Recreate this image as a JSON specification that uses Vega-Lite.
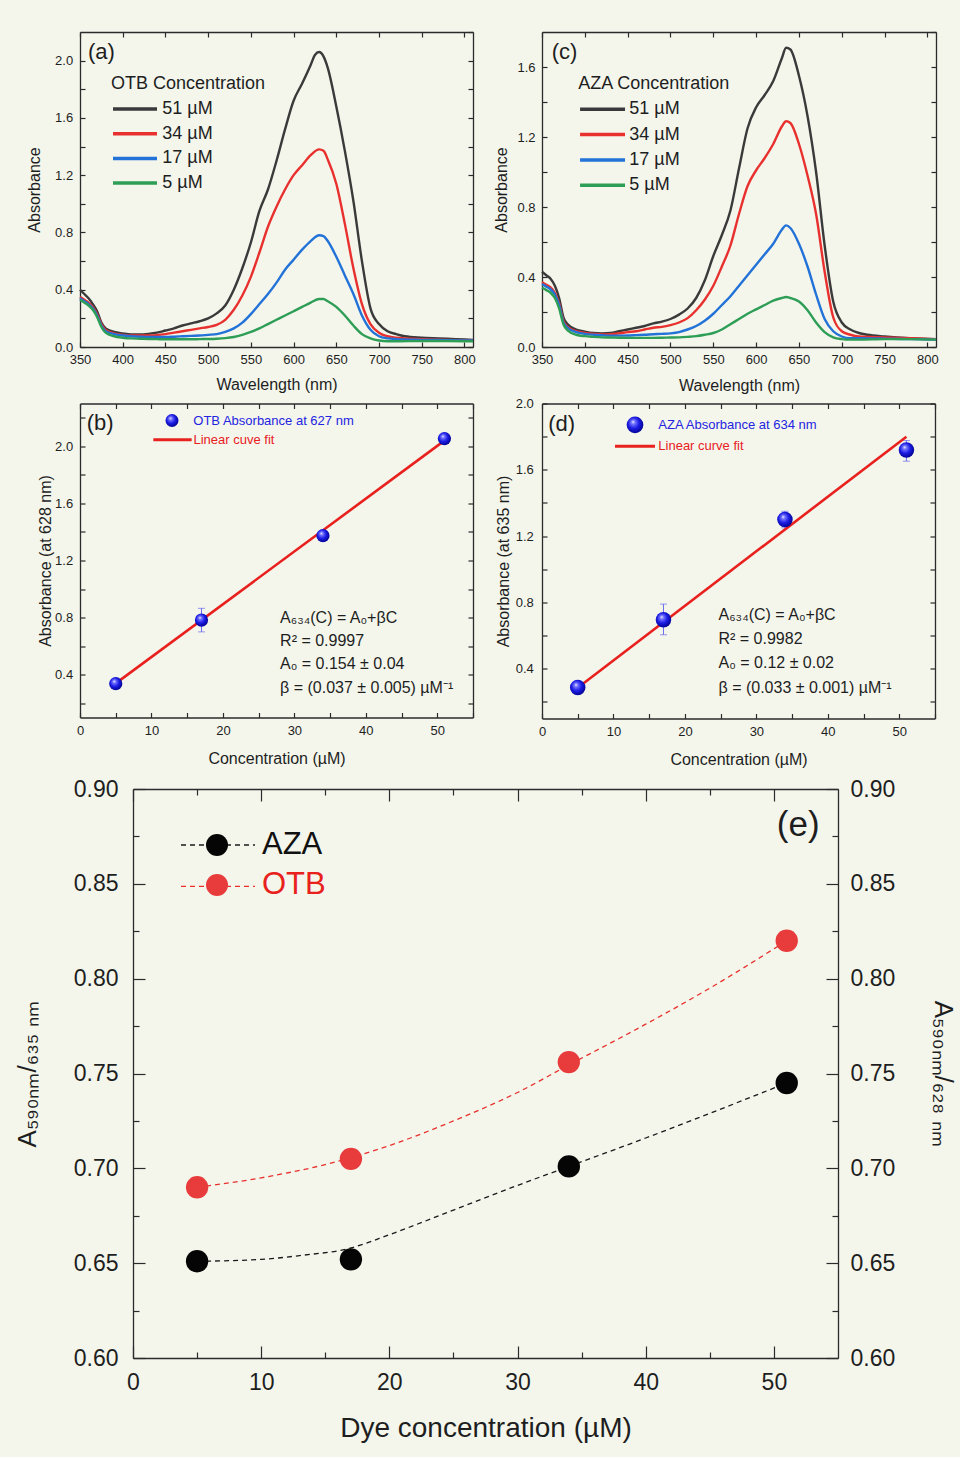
{
  "$schema": "https://vega.github.io/schema/vega-lite/v6.json",
  "background": "#f4f6ec",
  "padding": {"left": 14, "top": 31, "right": 4, "bottom": 14},
  "datasets": {
    "spectra": [
      {"dye":"OTB","conc":"51 µM","wl":350,"abs":0.40},{"dye":"OTB","conc":"51 µM","wl":355,"abs":0.37},{"dye":"OTB","conc":"51 µM","wl":360,"abs":0.34},{"dye":"OTB","conc":"51 µM","wl":365,"abs":0.30},{"dye":"OTB","conc":"51 µM","wl":370,"abs":0.25},{"dye":"OTB","conc":"51 µM","wl":375,"abs":0.17},{"dye":"OTB","conc":"51 µM","wl":380,"abs":0.13},{"dye":"OTB","conc":"51 µM","wl":390,"abs":0.105},{"dye":"OTB","conc":"51 µM","wl":400,"abs":0.095},{"dye":"OTB","conc":"51 µM","wl":410,"abs":0.088},{"dye":"OTB","conc":"51 µM","wl":420,"abs":0.088},{"dye":"OTB","conc":"51 µM","wl":430,"abs":0.092},{"dye":"OTB","conc":"51 µM","wl":440,"abs":0.10},{"dye":"OTB","conc":"51 µM","wl":450,"abs":0.115},{"dye":"OTB","conc":"51 µM","wl":460,"abs":0.13},{"dye":"OTB","conc":"51 µM","wl":470,"abs":0.15},{"dye":"OTB","conc":"51 µM","wl":480,"abs":0.165},{"dye":"OTB","conc":"51 µM","wl":490,"abs":0.18},{"dye":"OTB","conc":"51 µM","wl":500,"abs":0.20},{"dye":"OTB","conc":"51 µM","wl":510,"abs":0.235},{"dye":"OTB","conc":"51 µM","wl":520,"abs":0.29},{"dye":"OTB","conc":"51 µM","wl":530,"abs":0.40},{"dye":"OTB","conc":"51 µM","wl":540,"abs":0.55},{"dye":"OTB","conc":"51 µM","wl":550,"abs":0.73},{"dye":"OTB","conc":"51 µM","wl":560,"abs":0.95},{"dye":"OTB","conc":"51 µM","wl":570,"abs":1.10},{"dye":"OTB","conc":"51 µM","wl":580,"abs":1.30},{"dye":"OTB","conc":"51 µM","wl":590,"abs":1.52},{"dye":"OTB","conc":"51 µM","wl":600,"abs":1.72},{"dye":"OTB","conc":"51 µM","wl":610,"abs":1.84},{"dye":"OTB","conc":"51 µM","wl":620,"abs":1.97},{"dye":"OTB","conc":"51 µM","wl":625,"abs":2.04},{"dye":"OTB","conc":"51 µM","wl":630,"abs":2.06},{"dye":"OTB","conc":"51 µM","wl":635,"abs":2.03},{"dye":"OTB","conc":"51 µM","wl":640,"abs":1.95},{"dye":"OTB","conc":"51 µM","wl":650,"abs":1.68},{"dye":"OTB","conc":"51 µM","wl":660,"abs":1.37},{"dye":"OTB","conc":"51 µM","wl":670,"abs":1.02},{"dye":"OTB","conc":"51 µM","wl":680,"abs":0.60},{"dye":"OTB","conc":"51 µM","wl":690,"abs":0.27},{"dye":"OTB","conc":"51 µM","wl":700,"abs":0.16},{"dye":"OTB","conc":"51 µM","wl":710,"abs":0.11},{"dye":"OTB","conc":"51 µM","wl":720,"abs":0.09},{"dye":"OTB","conc":"51 µM","wl":730,"abs":0.075},{"dye":"OTB","conc":"51 µM","wl":750,"abs":0.065},{"dye":"OTB","conc":"51 µM","wl":770,"abs":0.06},{"dye":"OTB","conc":"51 µM","wl":790,"abs":0.055},{"dye":"OTB","conc":"51 µM","wl":810,"abs":0.05},

      {"dye":"OTB","conc":"34 µM","wl":350,"abs":0.35},{"dye":"OTB","conc":"34 µM","wl":355,"abs":0.33},{"dye":"OTB","conc":"34 µM","wl":360,"abs":0.31},{"dye":"OTB","conc":"34 µM","wl":365,"abs":0.28},{"dye":"OTB","conc":"34 µM","wl":370,"abs":0.23},{"dye":"OTB","conc":"34 µM","wl":375,"abs":0.16},{"dye":"OTB","conc":"34 µM","wl":380,"abs":0.12},{"dye":"OTB","conc":"34 µM","wl":390,"abs":0.095},{"dye":"OTB","conc":"34 µM","wl":400,"abs":0.085},{"dye":"OTB","conc":"34 µM","wl":410,"abs":0.08},{"dye":"OTB","conc":"34 µM","wl":420,"abs":0.08},{"dye":"OTB","conc":"34 µM","wl":430,"abs":0.08},{"dye":"OTB","conc":"34 µM","wl":440,"abs":0.083},{"dye":"OTB","conc":"34 µM","wl":450,"abs":0.09},{"dye":"OTB","conc":"34 µM","wl":460,"abs":0.10},{"dye":"OTB","conc":"34 µM","wl":470,"abs":0.11},{"dye":"OTB","conc":"34 µM","wl":480,"abs":0.12},{"dye":"OTB","conc":"34 µM","wl":490,"abs":0.13},{"dye":"OTB","conc":"34 µM","wl":500,"abs":0.14},{"dye":"OTB","conc":"34 µM","wl":510,"abs":0.155},{"dye":"OTB","conc":"34 µM","wl":520,"abs":0.19},{"dye":"OTB","conc":"34 µM","wl":530,"abs":0.26},{"dye":"OTB","conc":"34 µM","wl":540,"abs":0.36},{"dye":"OTB","conc":"34 µM","wl":550,"abs":0.49},{"dye":"OTB","conc":"34 µM","wl":560,"abs":0.66},{"dye":"OTB","conc":"34 µM","wl":570,"abs":0.84},{"dye":"OTB","conc":"34 µM","wl":580,"abs":0.98},{"dye":"OTB","conc":"34 µM","wl":590,"abs":1.10},{"dye":"OTB","conc":"34 µM","wl":600,"abs":1.20},{"dye":"OTB","conc":"34 µM","wl":610,"abs":1.27},{"dye":"OTB","conc":"34 µM","wl":620,"abs":1.34},{"dye":"OTB","conc":"34 µM","wl":630,"abs":1.38},{"dye":"OTB","conc":"34 µM","wl":635,"abs":1.37},{"dye":"OTB","conc":"34 µM","wl":640,"abs":1.31},{"dye":"OTB","conc":"34 µM","wl":650,"abs":1.14},{"dye":"OTB","conc":"34 µM","wl":660,"abs":0.86},{"dye":"OTB","conc":"34 µM","wl":670,"abs":0.55},{"dye":"OTB","conc":"34 µM","wl":680,"abs":0.30},{"dye":"OTB","conc":"34 µM","wl":690,"abs":0.16},{"dye":"OTB","conc":"34 µM","wl":700,"abs":0.10},{"dye":"OTB","conc":"34 µM","wl":710,"abs":0.075},{"dye":"OTB","conc":"34 µM","wl":720,"abs":0.065},{"dye":"OTB","conc":"34 µM","wl":750,"abs":0.055},{"dye":"OTB","conc":"34 µM","wl":780,"abs":0.05},{"dye":"OTB","conc":"34 µM","wl":810,"abs":0.045},

      {"dye":"OTB","conc":"17 µM","wl":350,"abs":0.34},{"dye":"OTB","conc":"17 µM","wl":355,"abs":0.32},{"dye":"OTB","conc":"17 µM","wl":360,"abs":0.30},{"dye":"OTB","conc":"17 µM","wl":365,"abs":0.27},{"dye":"OTB","conc":"17 µM","wl":370,"abs":0.22},{"dye":"OTB","conc":"17 µM","wl":375,"abs":0.15},{"dye":"OTB","conc":"17 µM","wl":380,"abs":0.11},{"dye":"OTB","conc":"17 µM","wl":390,"abs":0.09},{"dye":"OTB","conc":"17 µM","wl":400,"abs":0.08},{"dye":"OTB","conc":"17 µM","wl":410,"abs":0.075},{"dye":"OTB","conc":"17 µM","wl":420,"abs":0.072},{"dye":"OTB","conc":"17 µM","wl":430,"abs":0.07},{"dye":"OTB","conc":"17 µM","wl":440,"abs":0.07},{"dye":"OTB","conc":"17 µM","wl":450,"abs":0.07},{"dye":"OTB","conc":"17 µM","wl":460,"abs":0.072},{"dye":"OTB","conc":"17 µM","wl":470,"abs":0.075},{"dye":"OTB","conc":"17 µM","wl":480,"abs":0.078},{"dye":"OTB","conc":"17 µM","wl":490,"abs":0.08},{"dye":"OTB","conc":"17 µM","wl":500,"abs":0.085},{"dye":"OTB","conc":"17 µM","wl":510,"abs":0.09},{"dye":"OTB","conc":"17 µM","wl":520,"abs":0.105},{"dye":"OTB","conc":"17 µM","wl":530,"abs":0.13},{"dye":"OTB","conc":"17 µM","wl":540,"abs":0.17},{"dye":"OTB","conc":"17 µM","wl":550,"abs":0.23},{"dye":"OTB","conc":"17 µM","wl":560,"abs":0.30},{"dye":"OTB","conc":"17 µM","wl":570,"abs":0.37},{"dye":"OTB","conc":"17 µM","wl":580,"abs":0.45},{"dye":"OTB","conc":"17 µM","wl":590,"abs":0.54},{"dye":"OTB","conc":"17 µM","wl":600,"abs":0.61},{"dye":"OTB","conc":"17 µM","wl":610,"abs":0.68},{"dye":"OTB","conc":"17 µM","wl":620,"abs":0.74},{"dye":"OTB","conc":"17 µM","wl":630,"abs":0.78},{"dye":"OTB","conc":"17 µM","wl":635,"abs":0.775},{"dye":"OTB","conc":"17 µM","wl":640,"abs":0.74},{"dye":"OTB","conc":"17 µM","wl":650,"abs":0.63},{"dye":"OTB","conc":"17 µM","wl":660,"abs":0.50},{"dye":"OTB","conc":"17 µM","wl":670,"abs":0.37},{"dye":"OTB","conc":"17 µM","wl":680,"abs":0.22},{"dye":"OTB","conc":"17 µM","wl":690,"abs":0.12},{"dye":"OTB","conc":"17 µM","wl":700,"abs":0.075},{"dye":"OTB","conc":"17 µM","wl":710,"abs":0.06},{"dye":"OTB","conc":"17 µM","wl":720,"abs":0.055},{"dye":"OTB","conc":"17 µM","wl":750,"abs":0.05},{"dye":"OTB","conc":"17 µM","wl":780,"abs":0.048},{"dye":"OTB","conc":"17 µM","wl":810,"abs":0.045},

      {"dye":"OTB","conc":"5 µM","wl":350,"abs":0.33},{"dye":"OTB","conc":"5 µM","wl":355,"abs":0.31},{"dye":"OTB","conc":"5 µM","wl":360,"abs":0.29},{"dye":"OTB","conc":"5 µM","wl":365,"abs":0.26},{"dye":"OTB","conc":"5 µM","wl":370,"abs":0.21},{"dye":"OTB","conc":"5 µM","wl":375,"abs":0.14},{"dye":"OTB","conc":"5 µM","wl":380,"abs":0.10},{"dye":"OTB","conc":"5 µM","wl":390,"abs":0.075},{"dye":"OTB","conc":"5 µM","wl":400,"abs":0.065},{"dye":"OTB","conc":"5 µM","wl":410,"abs":0.06},{"dye":"OTB","conc":"5 µM","wl":420,"abs":0.058},{"dye":"OTB","conc":"5 µM","wl":430,"abs":0.056},{"dye":"OTB","conc":"5 µM","wl":440,"abs":0.055},{"dye":"OTB","conc":"5 µM","wl":450,"abs":0.054},{"dye":"OTB","conc":"5 µM","wl":460,"abs":0.054},{"dye":"OTB","conc":"5 µM","wl":470,"abs":0.054},{"dye":"OTB","conc":"5 µM","wl":480,"abs":0.054},{"dye":"OTB","conc":"5 µM","wl":490,"abs":0.055},{"dye":"OTB","conc":"5 µM","wl":500,"abs":0.056},{"dye":"OTB","conc":"5 µM","wl":510,"abs":0.058},{"dye":"OTB","conc":"5 µM","wl":520,"abs":0.062},{"dye":"OTB","conc":"5 µM","wl":530,"abs":0.07},{"dye":"OTB","conc":"5 µM","wl":540,"abs":0.085},{"dye":"OTB","conc":"5 µM","wl":550,"abs":0.105},{"dye":"OTB","conc":"5 µM","wl":560,"abs":0.13},{"dye":"OTB","conc":"5 µM","wl":570,"abs":0.16},{"dye":"OTB","conc":"5 µM","wl":580,"abs":0.19},{"dye":"OTB","conc":"5 µM","wl":590,"abs":0.22},{"dye":"OTB","conc":"5 µM","wl":600,"abs":0.25},{"dye":"OTB","conc":"5 µM","wl":610,"abs":0.28},{"dye":"OTB","conc":"5 µM","wl":620,"abs":0.31},{"dye":"OTB","conc":"5 µM","wl":630,"abs":0.335},{"dye":"OTB","conc":"5 µM","wl":635,"abs":0.335},{"dye":"OTB","conc":"5 µM","wl":640,"abs":0.32},{"dye":"OTB","conc":"5 µM","wl":650,"abs":0.28},{"dye":"OTB","conc":"5 µM","wl":660,"abs":0.22},{"dye":"OTB","conc":"5 µM","wl":670,"abs":0.15},{"dye":"OTB","conc":"5 µM","wl":680,"abs":0.09},{"dye":"OTB","conc":"5 µM","wl":690,"abs":0.06},{"dye":"OTB","conc":"5 µM","wl":700,"abs":0.045},{"dye":"OTB","conc":"5 µM","wl":710,"abs":0.04},{"dye":"OTB","conc":"5 µM","wl":720,"abs":0.04},{"dye":"OTB","conc":"5 µM","wl":750,"abs":0.042},{"dye":"OTB","conc":"5 µM","wl":780,"abs":0.042},{"dye":"OTB","conc":"5 µM","wl":810,"abs":0.04},

      {"dye":"AZA","conc":"51 µM","wl":350,"abs":0.43},{"dye":"AZA","conc":"51 µM","wl":355,"abs":0.41},{"dye":"AZA","conc":"51 µM","wl":360,"abs":0.39},{"dye":"AZA","conc":"51 µM","wl":365,"abs":0.35},{"dye":"AZA","conc":"51 µM","wl":370,"abs":0.28},{"dye":"AZA","conc":"51 µM","wl":375,"abs":0.17},{"dye":"AZA","conc":"51 µM","wl":380,"abs":0.13},{"dye":"AZA","conc":"51 µM","wl":390,"abs":0.10},{"dye":"AZA","conc":"51 µM","wl":400,"abs":0.088},{"dye":"AZA","conc":"51 µM","wl":410,"abs":0.08},{"dye":"AZA","conc":"51 µM","wl":420,"abs":0.078},{"dye":"AZA","conc":"51 µM","wl":430,"abs":0.08},{"dye":"AZA","conc":"51 µM","wl":440,"abs":0.09},{"dye":"AZA","conc":"51 µM","wl":450,"abs":0.10},{"dye":"AZA","conc":"51 µM","wl":460,"abs":0.11},{"dye":"AZA","conc":"51 µM","wl":470,"abs":0.12},{"dye":"AZA","conc":"51 µM","wl":480,"abs":0.135},{"dye":"AZA","conc":"51 µM","wl":490,"abs":0.145},{"dye":"AZA","conc":"51 µM","wl":500,"abs":0.16},{"dye":"AZA","conc":"51 µM","wl":510,"abs":0.185},{"dye":"AZA","conc":"51 µM","wl":520,"abs":0.22},{"dye":"AZA","conc":"51 µM","wl":530,"abs":0.28},{"dye":"AZA","conc":"51 µM","wl":540,"abs":0.38},{"dye":"AZA","conc":"51 µM","wl":550,"abs":0.52},{"dye":"AZA","conc":"51 µM","wl":560,"abs":0.64},{"dye":"AZA","conc":"51 µM","wl":570,"abs":0.78},{"dye":"AZA","conc":"51 µM","wl":580,"abs":1.02},{"dye":"AZA","conc":"51 µM","wl":590,"abs":1.25},{"dye":"AZA","conc":"51 µM","wl":600,"abs":1.37},{"dye":"AZA","conc":"51 µM","wl":610,"abs":1.44},{"dye":"AZA","conc":"51 µM","wl":620,"abs":1.52},{"dye":"AZA","conc":"51 µM","wl":630,"abs":1.65},{"dye":"AZA","conc":"51 µM","wl":635,"abs":1.71},{"dye":"AZA","conc":"51 µM","wl":640,"abs":1.70},{"dye":"AZA","conc":"51 µM","wl":650,"abs":1.55},{"dye":"AZA","conc":"51 µM","wl":660,"abs":1.32},{"dye":"AZA","conc":"51 µM","wl":670,"abs":1.0},{"dye":"AZA","conc":"51 µM","wl":680,"abs":0.58},{"dye":"AZA","conc":"51 µM","wl":690,"abs":0.26},{"dye":"AZA","conc":"51 µM","wl":700,"abs":0.14},{"dye":"AZA","conc":"51 µM","wl":710,"abs":0.10},{"dye":"AZA","conc":"51 µM","wl":720,"abs":0.08},{"dye":"AZA","conc":"51 µM","wl":730,"abs":0.07},{"dye":"AZA","conc":"51 µM","wl":750,"abs":0.06},{"dye":"AZA","conc":"51 µM","wl":780,"abs":0.05},{"dye":"AZA","conc":"51 µM","wl":810,"abs":0.045},

      {"dye":"AZA","conc":"34 µM","wl":350,"abs":0.37},{"dye":"AZA","conc":"34 µM","wl":355,"abs":0.355},{"dye":"AZA","conc":"34 µM","wl":360,"abs":0.34},{"dye":"AZA","conc":"34 µM","wl":365,"abs":0.31},{"dye":"AZA","conc":"34 µM","wl":370,"abs":0.25},{"dye":"AZA","conc":"34 µM","wl":375,"abs":0.15},{"dye":"AZA","conc":"34 µM","wl":380,"abs":0.115},{"dye":"AZA","conc":"34 µM","wl":390,"abs":0.09},{"dye":"AZA","conc":"34 µM","wl":400,"abs":0.08},{"dye":"AZA","conc":"34 µM","wl":410,"abs":0.075},{"dye":"AZA","conc":"34 µM","wl":420,"abs":0.072},{"dye":"AZA","conc":"34 µM","wl":430,"abs":0.073},{"dye":"AZA","conc":"34 µM","wl":440,"abs":0.078},{"dye":"AZA","conc":"34 µM","wl":450,"abs":0.085},{"dye":"AZA","conc":"34 µM","wl":460,"abs":0.09},{"dye":"AZA","conc":"34 µM","wl":470,"abs":0.10},{"dye":"AZA","conc":"34 µM","wl":480,"abs":0.11},{"dye":"AZA","conc":"34 µM","wl":490,"abs":0.115},{"dye":"AZA","conc":"34 µM","wl":500,"abs":0.125},{"dye":"AZA","conc":"34 µM","wl":510,"abs":0.14},{"dye":"AZA","conc":"34 µM","wl":520,"abs":0.165},{"dye":"AZA","conc":"34 µM","wl":530,"abs":0.21},{"dye":"AZA","conc":"34 µM","wl":540,"abs":0.27},{"dye":"AZA","conc":"34 µM","wl":550,"abs":0.35},{"dye":"AZA","conc":"34 µM","wl":560,"abs":0.46},{"dye":"AZA","conc":"34 µM","wl":570,"abs":0.58},{"dye":"AZA","conc":"34 µM","wl":580,"abs":0.76},{"dye":"AZA","conc":"34 µM","wl":590,"abs":0.92},{"dye":"AZA","conc":"34 µM","wl":600,"abs":1.01},{"dye":"AZA","conc":"34 µM","wl":610,"abs":1.08},{"dye":"AZA","conc":"34 µM","wl":620,"abs":1.16},{"dye":"AZA","conc":"34 µM","wl":630,"abs":1.26},{"dye":"AZA","conc":"34 µM","wl":635,"abs":1.29},{"dye":"AZA","conc":"34 µM","wl":640,"abs":1.28},{"dye":"AZA","conc":"34 µM","wl":650,"abs":1.16},{"dye":"AZA","conc":"34 µM","wl":660,"abs":0.98},{"dye":"AZA","conc":"34 µM","wl":670,"abs":0.76},{"dye":"AZA","conc":"34 µM","wl":680,"abs":0.43},{"dye":"AZA","conc":"34 µM","wl":690,"abs":0.17},{"dye":"AZA","conc":"34 µM","wl":700,"abs":0.09},{"dye":"AZA","conc":"34 µM","wl":710,"abs":0.07},{"dye":"AZA","conc":"34 µM","wl":720,"abs":0.06},{"dye":"AZA","conc":"34 µM","wl":750,"abs":0.055},{"dye":"AZA","conc":"34 µM","wl":780,"abs":0.05},{"dye":"AZA","conc":"34 µM","wl":810,"abs":0.045},

      {"dye":"AZA","conc":"17 µM","wl":350,"abs":0.36},{"dye":"AZA","conc":"17 µM","wl":355,"abs":0.345},{"dye":"AZA","conc":"17 µM","wl":360,"abs":0.33},{"dye":"AZA","conc":"17 µM","wl":365,"abs":0.30},{"dye":"AZA","conc":"17 µM","wl":370,"abs":0.24},{"dye":"AZA","conc":"17 µM","wl":375,"abs":0.14},{"dye":"AZA","conc":"17 µM","wl":380,"abs":0.11},{"dye":"AZA","conc":"17 µM","wl":390,"abs":0.085},{"dye":"AZA","conc":"17 µM","wl":400,"abs":0.075},{"dye":"AZA","conc":"17 µM","wl":410,"abs":0.07},{"dye":"AZA","conc":"17 µM","wl":420,"abs":0.067},{"dye":"AZA","conc":"17 µM","wl":430,"abs":0.065},{"dye":"AZA","conc":"17 µM","wl":440,"abs":0.065},{"dye":"AZA","conc":"17 µM","wl":450,"abs":0.066},{"dye":"AZA","conc":"17 µM","wl":460,"abs":0.068},{"dye":"AZA","conc":"17 µM","wl":470,"abs":0.07},{"dye":"AZA","conc":"17 µM","wl":480,"abs":0.073},{"dye":"AZA","conc":"17 µM","wl":490,"abs":0.075},{"dye":"AZA","conc":"17 µM","wl":500,"abs":0.078},{"dye":"AZA","conc":"17 µM","wl":510,"abs":0.085},{"dye":"AZA","conc":"17 µM","wl":520,"abs":0.10},{"dye":"AZA","conc":"17 µM","wl":530,"abs":0.12},{"dye":"AZA","conc":"17 µM","wl":540,"abs":0.15},{"dye":"AZA","conc":"17 µM","wl":550,"abs":0.19},{"dye":"AZA","conc":"17 µM","wl":560,"abs":0.24},{"dye":"AZA","conc":"17 µM","wl":570,"abs":0.29},{"dye":"AZA","conc":"17 µM","wl":580,"abs":0.35},{"dye":"AZA","conc":"17 µM","wl":590,"abs":0.41},{"dye":"AZA","conc":"17 µM","wl":600,"abs":0.47},{"dye":"AZA","conc":"17 µM","wl":610,"abs":0.53},{"dye":"AZA","conc":"17 µM","wl":620,"abs":0.59},{"dye":"AZA","conc":"17 µM","wl":630,"abs":0.67},{"dye":"AZA","conc":"17 µM","wl":635,"abs":0.695},{"dye":"AZA","conc":"17 µM","wl":640,"abs":0.68},{"dye":"AZA","conc":"17 µM","wl":650,"abs":0.59},{"dye":"AZA","conc":"17 µM","wl":660,"abs":0.46},{"dye":"AZA","conc":"17 µM","wl":670,"abs":0.30},{"dye":"AZA","conc":"17 µM","wl":680,"abs":0.16},{"dye":"AZA","conc":"17 µM","wl":690,"abs":0.09},{"dye":"AZA","conc":"17 µM","wl":700,"abs":0.06},{"dye":"AZA","conc":"17 µM","wl":710,"abs":0.05},{"dye":"AZA","conc":"17 µM","wl":720,"abs":0.05},{"dye":"AZA","conc":"17 µM","wl":750,"abs":0.048},{"dye":"AZA","conc":"17 µM","wl":780,"abs":0.045},{"dye":"AZA","conc":"17 µM","wl":810,"abs":0.042},

      {"dye":"AZA","conc":"5 µM","wl":350,"abs":0.34},{"dye":"AZA","conc":"5 µM","wl":355,"abs":0.325},{"dye":"AZA","conc":"5 µM","wl":360,"abs":0.31},{"dye":"AZA","conc":"5 µM","wl":365,"abs":0.28},{"dye":"AZA","conc":"5 µM","wl":370,"abs":0.22},{"dye":"AZA","conc":"5 µM","wl":375,"abs":0.13},{"dye":"AZA","conc":"5 µM","wl":380,"abs":0.095},{"dye":"AZA","conc":"5 µM","wl":390,"abs":0.07},{"dye":"AZA","conc":"5 µM","wl":400,"abs":0.062},{"dye":"AZA","conc":"5 µM","wl":410,"abs":0.058},{"dye":"AZA","conc":"5 µM","wl":420,"abs":0.055},{"dye":"AZA","conc":"5 µM","wl":430,"abs":0.054},{"dye":"AZA","conc":"5 µM","wl":440,"abs":0.053},{"dye":"AZA","conc":"5 µM","wl":450,"abs":0.052},{"dye":"AZA","conc":"5 µM","wl":460,"abs":0.052},{"dye":"AZA","conc":"5 µM","wl":470,"abs":0.052},{"dye":"AZA","conc":"5 µM","wl":480,"abs":0.052},{"dye":"AZA","conc":"5 µM","wl":490,"abs":0.053},{"dye":"AZA","conc":"5 µM","wl":500,"abs":0.054},{"dye":"AZA","conc":"5 µM","wl":510,"abs":0.055},{"dye":"AZA","conc":"5 µM","wl":520,"abs":0.058},{"dye":"AZA","conc":"5 µM","wl":530,"abs":0.062},{"dye":"AZA","conc":"5 µM","wl":540,"abs":0.07},{"dye":"AZA","conc":"5 µM","wl":550,"abs":0.08},{"dye":"AZA","conc":"5 µM","wl":560,"abs":0.10},{"dye":"AZA","conc":"5 µM","wl":570,"abs":0.13},{"dye":"AZA","conc":"5 µM","wl":580,"abs":0.16},{"dye":"AZA","conc":"5 µM","wl":590,"abs":0.19},{"dye":"AZA","conc":"5 µM","wl":600,"abs":0.215},{"dye":"AZA","conc":"5 µM","wl":610,"abs":0.24},{"dye":"AZA","conc":"5 µM","wl":620,"abs":0.265},{"dye":"AZA","conc":"5 µM","wl":630,"abs":0.28},{"dye":"AZA","conc":"5 µM","wl":635,"abs":0.286},{"dye":"AZA","conc":"5 µM","wl":640,"abs":0.28},{"dye":"AZA","conc":"5 µM","wl":650,"abs":0.26},{"dye":"AZA","conc":"5 µM","wl":660,"abs":0.21},{"dye":"AZA","conc":"5 µM","wl":670,"abs":0.14},{"dye":"AZA","conc":"5 µM","wl":680,"abs":0.085},{"dye":"AZA","conc":"5 µM","wl":690,"abs":0.055},{"dye":"AZA","conc":"5 µM","wl":700,"abs":0.045},{"dye":"AZA","conc":"5 µM","wl":710,"abs":0.042},{"dye":"AZA","conc":"5 µM","wl":720,"abs":0.042},{"dye":"AZA","conc":"5 µM","wl":750,"abs":0.045},{"dye":"AZA","conc":"5 µM","wl":780,"abs":0.045},{"dye":"AZA","conc":"5 µM","wl":810,"abs":0.042}
    ],
    "calib": [
      {"dye":"OTB","conc":5,"abs":0.337,"lo":0.337,"hi":0.337},
      {"dye":"OTB","conc":17,"abs":0.783,"lo":0.70,"hi":0.865},
      {"dye":"OTB","conc":34,"abs":1.374,"lo":1.374,"hi":1.374},
      {"dye":"OTB","conc":51,"abs":2.054,"lo":2.054,"hi":2.054},
      {"dye":"AZA","conc":5,"abs":0.287,"lo":0.287,"hi":0.287},
      {"dye":"AZA","conc":17,"abs":0.696,"lo":0.605,"hi":0.79},
      {"dye":"AZA","conc":34,"abs":1.30,"lo":1.25,"hi":1.35},
      {"dye":"AZA","conc":51,"abs":1.72,"lo":1.652,"hi":1.777}
    ],
    "fit": [
      {"dye":"OTB","conc":5,"fit":0.339},{"dye":"OTB","conc":51,"fit":2.04},
      {"dye":"AZA","conc":5,"fit":0.285},{"dye":"AZA","conc":51,"fit":1.80}
    ],
    "ratio": [
      {"dye":"AZA","conc":5,"ratio":0.651},{"dye":"AZA","conc":17,"ratio":0.652},{"dye":"AZA","conc":34,"ratio":0.701},{"dye":"AZA","conc":51,"ratio":0.745},
      {"dye":"OTB","conc":5,"ratio":0.690},{"dye":"OTB","conc":17,"ratio":0.705},{"dye":"OTB","conc":34,"ratio":0.756},{"dye":"OTB","conc":51,"ratio":0.820}
    ],
    "ratiofit": [
      {"curve":"AZA fit","conc":5,"fit":0.651},{"curve":"AZA fit","conc":10,"fit":0.652},{"curve":"AZA fit","conc":13,"fit":0.654},{"curve":"AZA fit","conc":17,"fit":0.658},{"curve":"AZA fit","conc":20,"fit":0.665},{"curve":"AZA fit","conc":25,"fit":0.678},{"curve":"AZA fit","conc":30,"fit":0.691},{"curve":"AZA fit","conc":34,"fit":0.701},{"curve":"AZA fit","conc":40,"fit":0.716},{"curve":"AZA fit","conc":45,"fit":0.729},{"curve":"AZA fit","conc":51,"fit":0.745},
      {"curve":"OTB fit","conc":5,"fit":0.690},{"curve":"OTB fit","conc":10,"fit":0.695},{"curve":"OTB fit","conc":15,"fit":0.702},{"curve":"OTB fit","conc":20,"fit":0.712},{"curve":"OTB fit","conc":25,"fit":0.725},{"curve":"OTB fit","conc":30,"fit":0.740},{"curve":"OTB fit","conc":34,"fit":0.7545},{"curve":"OTB fit","conc":40,"fit":0.776},{"curve":"OTB fit","conc":45,"fit":0.795},{"curve":"OTB fit","conc":51,"fit":0.820}
    ]
  },
  "spacing": 3.5,
  "resolve": {"scale": {"color": "independent", "stroke": "independent", "fill": "independent", "shape": "independent"}},
  "vconcat": [
    {
      "spacing": 69,
      "bounds": "flush",
      "resolve": {"scale": {"color": "independent", "stroke": "independent", "fill": "independent", "shape": "independent"}},
      "hconcat": [
        {
          "width": 393, "height": 315,
          "resolve": {"axis": {"x": "independent", "y": "independent"}},
          "layer": [
            {
              "data": {"name": "spectra"},
              "transform": [{"filter": "datum.dye === 'OTB'"}],
              "mark": {"type": "line", "strokeWidth": 2.4, "interpolate": "monotone"},
              "encoding": {
                "x": {"field": "wl", "type": "quantitative", "scale": {"domain": [350, 810], "nice": false, "zero": false},
                  "axis": {"orient": "bottom", "values": [350,400,450,500,550,600,650,700,750,800], "title": "Wavelength (nm)", "labelPadding": 11.5, "titlePadding": 9.5}},
                "y": {"field": "abs", "type": "quantitative", "scale": {"domain": [0, 2.2], "nice": false, "zero": false},
                  "axis": {"orient": "left", "values": [0,0.2,0.4,0.6,0.8,1.0,1.2,1.4,1.6,1.8,2.0], "labelExpr": "round(datum.value*10) % 4 === 0 ? format(datum.value, '.1f') : ''", "title": "Absorbance", "labelPadding": 12.3, "titlePadding": 12}},
                "color": {"field": "conc", "type": "nominal", "scale": {"domain": ["51 µM","34 µM","17 µM","5 µM"], "range": ["#3a3a3a","#e8312f","#2272d8","#2e9e56"]},
                  "legend": {"orient": "none", "legendX": 31, "legendY": 42.5, "title": "OTB Concentration", "titleFontSize": 18, "titlePadding": 3.5, "labelFontSize": 18, "symbolType": "M-1,0H3", "symbolSize": 484, "symbolStrokeWidth": 3.5, "labelOffset": 25.3, "rowPadding": 2.7}}
              }
            },
            {
              "data": {"values": [{}]},
              "mark": {"type": "text", "text": "(a)", "fontSize": 22, "align": "left", "baseline": "middle", "color": "#1e1e1e"},
              "encoding": {
                "x": {"datum": 359.3, "type": "quantitative", "axis": {"orient": "top", "values": [350,400,450,500,550,600,650,700,750,800], "labels": false, "title": null}},
                "y": {"datum": 2.058, "type": "quantitative", "axis": {"orient": "right", "values": [0,0.2,0.4,0.6,0.8,1.0,1.2,1.4,1.6,1.8,2.0,2.2], "labels": false, "title": null}}
              }
            }
          ]
        },
        {
          "width": 394, "height": 315,
          "resolve": {"axis": {"x": "independent", "y": "independent"}},
          "layer": [
            {
              "data": {"name": "spectra"},
              "transform": [{"filter": "datum.dye === 'AZA'"}],
              "mark": {"type": "line", "strokeWidth": 2.4, "interpolate": "monotone"},
              "encoding": {
                "x": {"field": "wl", "type": "quantitative", "scale": {"domain": [350, 810], "nice": false, "zero": false},
                  "axis": {"orient": "bottom", "values": [350,400,450,500,550,600,650,700,750,800], "title": "Wavelength (nm)", "labelPadding": 11.5, "titlePadding": 11}},
                "y": {"field": "abs", "type": "quantitative", "scale": {"domain": [0, 1.8], "nice": false, "zero": false},
                  "axis": {"orient": "left", "values": [0,0.2,0.4,0.6,0.8,1.0,1.2,1.4,1.6], "labelExpr": "round(datum.value*10) % 4 === 0 ? format(datum.value, '.1f') : ''", "title": "Absorbance", "labelPadding": 12, "titlePadding": 7.5}},
                "color": {"field": "conc", "type": "nominal", "scale": {"domain": ["51 µM","34 µM","17 µM","5 µM"], "range": ["#3a3a3a","#e8312f","#2272d8","#2e9e56"]},
                  "legend": {"orient": "none", "legendX": 36.3, "legendY": 42.8, "title": "AZA Concentration", "titleFontSize": 18, "titlePadding": 3.5, "labelFontSize": 18, "symbolType": "M-1,0H3", "symbolSize": 506, "symbolStrokeWidth": 3.5, "labelOffset": 25, "rowPadding": 3.3}}
              }
            },
            {
              "data": {"values": [{}]},
              "mark": {"type": "text", "text": "(c)", "fontSize": 22, "align": "left", "baseline": "middle", "color": "#1e1e1e"},
              "encoding": {
                "x": {"datum": 361.3, "type": "quantitative", "axis": {"orient": "top", "values": [350,400,450,500,550,600,650,700,750,800], "labels": false, "title": null}},
                "y": {"datum": 1.687, "type": "quantitative", "axis": {"orient": "right", "values": [0,0.2,0.4,0.6,0.8,1.0,1.2,1.4,1.6,1.8], "labels": false, "title": null}}
              }
            }
          ]
        }
      ]
    },
    {
      "spacing": 10.5,
      "resolve": {"scale": {"color": "independent", "stroke": "independent", "fill": "independent", "shape": "independent"}},
      "vconcat": [
        {
          "spacing": 69,
          "bounds": "flush",
          "resolve": {"scale": {"color": "independent", "stroke": "independent", "fill": "independent", "shape": "independent"}},
          "hconcat": [
            {
              "width": 393, "height": 314,
              "resolve": {"axis": {"x": "independent", "y": "independent"}},
              "layer": [
                {
                  "data": {"name": "calib"},
                  "transform": [{"filter": "datum.dye === 'OTB'"}],
                  "mark": {"type": "errorbar", "ticks": true, "size": 7, "thickness": 1, "color": "#6a6aee"},
                  "encoding": {
                    "x": {"field": "conc", "type": "quantitative", "scale": {"domain": [0, 55], "nice": false, "zero": false}, "axis": null},
                    "y": {"field": "lo", "type": "quantitative", "scale": {"domain": [0.1, 2.3], "nice": false, "zero": false}, "axis": null},
                    "y2": {"field": "hi"}
                  }
                },
                {
                  "data": {"name": "fit"},
                  "transform": [{"filter": "datum.dye === 'OTB'"}],
                  "mark": {"type": "line", "strokeWidth": 2.6},
                  "encoding": {
                    "x": {"field": "conc", "type": "quantitative", "axis": null},
                    "y": {"field": "fit", "type": "quantitative", "axis": null},
                    "stroke": {"datum": "Linear cuve fit", "scale": {"range": ["#e8201e"]},
                      "legend": {"orient": "none", "legendX": 71.5, "legendY": 15.3, "title": null, "symbolType": "stroke", "symbolSize": 1467, "symbolStrokeWidth": 3, "labelOffset": 0, "labelFontSize": 13, "labelColor": "#e8201e"}}
                  }
                },
                {
                  "data": {"name": "calib"},
                  "transform": [{"filter": "datum.dye === 'OTB'"}],
                  "mark": {"type": "point", "filled": true, "size": 175, "strokeWidth": 0, "opacity": 1,
                    "fill": {"gradient": "radial", "x1": 0.38, "y1": 0.32, "r1": 0, "x2": 0.45, "y2": 0.45, "r2": 0.6, "stops": [{"offset": 0, "color": "#ffffff"}, {"offset": 0.18, "color": "#7a7aff"}, {"offset": 0.55, "color": "#1c1ce6"}, {"offset": 1, "color": "#000088"}]}},
                  "encoding": {
                    "x": {"field": "conc", "type": "quantitative",
                      "axis": {"orient": "bottom", "values": [0,5,10,15,20,25,30,35,40,45,50,55], "labelExpr": "datum.value % 10 === 0 ? datum.label : ''", "title": "Concentration (µM)", "labelPadding": 11.5, "titlePadding": 13.5}},
                    "y": {"field": "abs", "type": "quantitative",
                      "axis": {"orient": "left", "values": [0.2,0.4,0.6,0.8,1.0,1.2,1.4,1.6,1.8,2.0,2.2], "labelExpr": "round(datum.value*10) % 4 === 0 ? format(datum.value, '.1f') : ''", "title": "Absorbance (at 628 nm)", "labelPadding": 12.3, "titlePadding": 1}},
                    "shape": {"datum": "OTB Absorbance at 627 nm", "scale": {"range": ["circle"]},
                      "legend": {"orient": "none", "legendX": 85.5, "legendY": 10.5, "title": null, "symbolSize": 169, "symbolFillColor": "#2020e6", "symbolStrokeWidth": 0, "labelOffset": 14.8, "labelFontSize": 13, "labelColor": "#2424e0"}}
                  }
                },
                {
                  "data": {"values": [{}]},
                  "mark": {"type": "text", "text": "(b)", "fontSize": 22, "align": "left", "baseline": "middle", "color": "#1e1e1e"},
                  "encoding": {
                    "x": {"datum": 0.94, "type": "quantitative", "axis": {"orient": "top", "values": [0,5,10,15,20,25,30,35,40,45,50,55], "labels": false, "title": null}},
                    "y": {"datum": 2.162, "type": "quantitative", "axis": {"orient": "right", "values": [0.2,0.4,0.6,0.8,1.0,1.2,1.4,1.6,1.8,2.0,2.2], "labels": false, "title": null}}
                  }
                },
                {
                  "data": {"values": [{}]},
                  "mark": {"type": "text", "text": ["A₆₃₄(C) = A₀+βC", "R² = 0.9997", "A₀ = 0.154 ± 0.04", "β = (0.037 ± 0.005) µM⁻¹"], "fontSize": 16, "lineHeight": 23.3, "align": "left", "baseline": "top", "color": "#1e1e1e"},
                  "encoding": {
                    "x": {"datum": 28.0, "type": "quantitative", "axis": null},
                    "y": {"datum": 0.854, "type": "quantitative", "axis": null}
                  }
                }
              ]
            },
            {
              "width": 393, "height": 315,
              "resolve": {"axis": {"x": "independent", "y": "independent"}},
              "layer": [
                {
                  "data": {"name": "calib"},
                  "transform": [{"filter": "datum.dye === 'AZA'"}],
                  "mark": {"type": "errorbar", "ticks": true, "size": 7, "thickness": 1, "color": "#6a6aee"},
                  "encoding": {
                    "x": {"field": "conc", "type": "quantitative", "scale": {"domain": [0, 55], "nice": false, "zero": false}, "axis": null},
                    "y": {"field": "lo", "type": "quantitative", "scale": {"domain": [0.1, 2.0], "nice": false, "zero": false}, "axis": null},
                    "y2": {"field": "hi"}
                  }
                },
                {
                  "data": {"name": "fit"},
                  "transform": [{"filter": "datum.dye === 'AZA'"}],
                  "mark": {"type": "line", "strokeWidth": 2.6},
                  "encoding": {
                    "x": {"field": "conc", "type": "quantitative", "axis": null},
                    "y": {"field": "fit", "type": "quantitative", "axis": null},
                    "stroke": {"datum": "Linear curve fit", "scale": {"range": ["#e8201e"]},
                      "legend": {"orient": "none", "legendX": 71.5, "legendY": 21.2, "title": null, "symbolType": "stroke", "symbolSize": 1600, "symbolStrokeWidth": 3, "labelOffset": 1.8, "labelFontSize": 13, "labelColor": "#e8201e"}}
                  }
                },
                {
                  "data": {"name": "calib"},
                  "transform": [{"filter": "datum.dye === 'AZA'"}],
                  "mark": {"type": "point", "filled": true, "size": 240, "strokeWidth": 0, "opacity": 1,
                    "fill": {"gradient": "radial", "x1": 0.38, "y1": 0.32, "r1": 0, "x2": 0.45, "y2": 0.45, "r2": 0.6, "stops": [{"offset": 0, "color": "#ffffff"}, {"offset": 0.18, "color": "#7a7aff"}, {"offset": 0.55, "color": "#1c1ce6"}, {"offset": 1, "color": "#000088"}]}},
                  "encoding": {
                    "x": {"field": "conc", "type": "quantitative",
                      "axis": {"orient": "bottom", "values": [0,5,10,15,20,25,30,35,40,45,50,55], "labelExpr": "datum.value % 10 === 0 ? datum.label : ''", "title": "Concentration (µM)", "labelPadding": 11.5, "titlePadding": 13.5}},
                    "y": {"field": "abs", "type": "quantitative",
                      "axis": {"orient": "left", "values": [0.2,0.4,0.6,0.8,1.0,1.2,1.4,1.6,1.8,2.0], "labelExpr": "round(datum.value*10) % 4 === 0 ? format(datum.value, '.1f') : ''", "title": "Absorbance (at 635 nm)", "labelPadding": 13.7, "titlePadding": 4}},
                    "shape": {"datum": "AZA Absorbance at 634 nm", "scale": {"range": ["circle"]},
                      "legend": {"orient": "none", "legendX": 84.5, "legendY": 12.8, "title": null, "symbolSize": 279, "symbolFillColor": "#2020e6", "symbolStrokeWidth": 0, "labelOffset": 14.8, "labelFontSize": 13, "labelColor": "#2424e0"}}
                  }
                },
                {
                  "data": {"values": [{}]},
                  "mark": {"type": "text", "text": "(d)", "fontSize": 22, "align": "left", "baseline": "middle", "color": "#1e1e1e"},
                  "encoding": {
                    "x": {"datum": 0.88, "type": "quantitative", "axis": {"orient": "top", "values": [0,5,10,15,20,25,30,35,40,45,50,55], "labels": false, "title": null}},
                    "y": {"datum": 1.878, "type": "quantitative", "axis": {"orient": "right", "values": [0.2,0.4,0.6,0.8,1.0,1.2,1.4,1.6,1.8,2.0], "labels": false, "title": null}}
                  }
                },
                {
                  "data": {"values": [{}]},
                  "mark": {"type": "text", "text": ["A₆₃₄(C) = A₀+βC", "R² = 0.9982", "A₀ = 0.12 ± 0.02", "β = (0.033 ± 0.001) µM⁻¹"], "fontSize": 16, "lineHeight": 24.2, "align": "left", "baseline": "top", "color": "#1e1e1e"},
                  "encoding": {
                    "x": {"datum": 24.7, "type": "quantitative", "axis": null},
                    "y": {"datum": 0.772, "type": "quantitative", "axis": null}
                  }
                }
              ]
            }
          ]
        },
        {
          "spacing": 0,
          "bounds": "flush",
          "resolve": {"scale": {"color": "independent", "stroke": "independent", "fill": "independent", "shape": "independent"}},
          "hconcat": [
            {"width": 53, "height": 10, "data": {"values": [{}]}, "mark": {"type": "text", "text": ""}},
            {
              "width": 705, "height": 569,
              "resolve": {"axis": {"x": "independent", "y": "independent"}},
              "layer": [
                {
                  "data": {"name": "ratiofit"},
                  "mark": {"type": "line", "strokeDash": [5, 4], "strokeWidth": 1.3, "interpolate": "monotone"},
                  "encoding": {
                    "x": {"field": "conc", "type": "quantitative", "scale": {"domain": [0, 55], "nice": false, "zero": false},
                      "axis": {"orient": "top", "values": [0,10,20,30,40,50], "labels": false, "title": null, "tickSize": -12}},
                    "y": {"field": "fit", "type": "quantitative", "scale": {"domain": [0.6, 0.9], "nice": false, "zero": false},
                      "axis": {"orient": "right", "values": [0.6,0.65,0.7,0.75,0.8,0.85,0.9], "format": ".2f", "tickSize": -12, "labelPadding": 24, "labelFontSize": 23, "title": "A₅₉₀ₙₘ/₆₂₈ ₙₘ", "titleFontSize": 26, "titlePadding": 35}},
                    "stroke": {"field": "curve", "type": "nominal", "scale": {"domain": ["AZA fit","OTB fit"], "range": ["#1a1a1a","#e8302c"]},
                      "legend": {"orient": "none", "legendX": 47, "legendY": 18, "title": null, "symbolType": "stroke", "symbolSize": 5476, "symbolStrokeWidth": 1.3, "symbolDash": [5, 4], "labelExpr": "''", "labelFontSize": 1, "rowPadding": 0.4}}
                  }
                },
                {
                  "data": {"name": "ratio"},
                  "mark": {"type": "circle", "size": 500, "opacity": 1},
                  "encoding": {
                    "x": {"field": "conc", "type": "quantitative",
                      "axis": {"orient": "bottom", "values": [0,10,20,30,40,50], "tickSize": -12, "labelPadding": 25.5, "labelFontSize": 23, "title": "Dye concentration (µM)", "titleFontSize": 28, "titlePadding": 20}},
                    "y": {"field": "ratio", "type": "quantitative",
                      "axis": {"orient": "left", "values": [0.6,0.65,0.7,0.75,0.8,0.85,0.9], "format": ".2f", "tickSize": -12, "labelPadding": 27, "labelFontSize": 23, "title": "A₅₉₀ₙₘ/₆₃₅ ₙₘ", "titleFontSize": 26, "titlePadding": 33}},
                    "fill": {"field": "dye", "type": "nominal", "scale": {"domain": ["AZA","OTB"], "range": ["#050505","#e83c3c"]},
                      "legend": {"orient": "none", "legendX": 68.5, "legendY": 40.5, "title": null, "symbolType": "circle", "symbolSize": 484, "symbolStrokeWidth": 0, "labelFontSize": 31, "labelOffset": 29.5, "rowPadding": 8, "labelColor": {"expr": "datum.label === 'OTB' ? '#e8211d' : '#111111'"}}}
                  }
                },
                {
                  "data": {"values": [{}]},
                  "mark": {"type": "text", "text": "(e)", "fontSize": 35, "align": "center", "baseline": "middle", "color": "#1e1e1e"},
                  "encoding": {
                    "x": {"datum": 51.9, "type": "quantitative", "axis": {"orient": "bottom", "values": [5,15,25,35,45], "labels": false, "title": null, "tickSize": -6, "domain": false}},
                    "y": {"datum": 0.881, "type": "quantitative", "axis": {"orient": "left", "values": [0.625,0.675,0.725,0.775,0.825,0.875], "labels": false, "title": null, "tickSize": -6, "domain": false}}
                  }
                },
                {
                  "data": {"values": [{}]},
                  "mark": {"type": "text", "text": ""},
                  "encoding": {
                    "x": {"datum": 25, "type": "quantitative", "axis": {"orient": "top", "values": [5,15,25,35,45], "labels": false, "title": null, "tickSize": -6, "domain": false}},
                    "y": {"datum": 0.75, "type": "quantitative", "axis": {"orient": "right", "values": [0.625,0.675,0.725,0.775,0.825,0.875], "labels": false, "title": null, "tickSize": -6, "domain": false}}
                  }
                }
              ]
            }
          ]
        }
      ]
    }
  ],
  "config": {
    "font": "Liberation Sans",
    "view": {"stroke": null},
    "axis": {"grid": false, "domainColor": "#2b2b2b", "domainWidth": 1.3, "tickColor": "#2b2b2b", "tickWidth": 1.2, "tickSize": -5, "labelColor": "#1e1e1e", "titleColor": "#1e1e1e", "labelFont": "Liberation Sans", "titleFont": "Liberation Sans", "titleFontWeight": "normal", "labelFlush": false, "labelOverlap": false, "labelBound": false, "labelFontSize": 13, "titleFontSize": 16},
    "legend": {"padding": 0, "labelFont": "Liberation Sans", "titleFont": "Liberation Sans", "titleFontWeight": "normal", "titleColor": "#1e1e1e", "labelColor": "#1e1e1e", "labelLimit": 400}
  }
}
